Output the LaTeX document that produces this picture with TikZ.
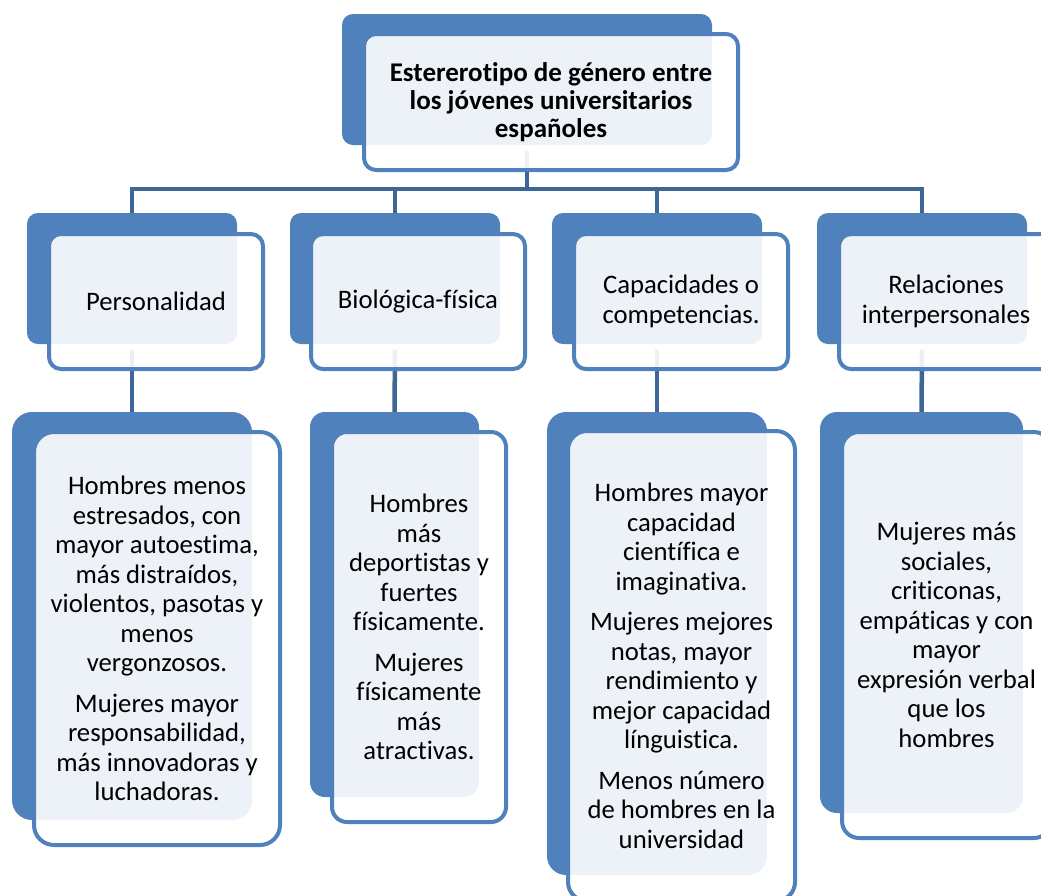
\documentclass[tikz,border=0pt]{standalone}
\usepackage{fontspec}
\setmainfont{Carlito}[Ligatures={NoCommon,NoRare,NoContextual}]
\definecolor{accent}{RGB}{79,129,189}
\definecolor{connc}{RGB}{62,102,150}
\tikzset{
  backbox/.style={fill=accent, draw=none, anchor=north west, inner sep=0pt, outer sep=0pt},
  frontbox/.style={draw=accent, line width=4pt, fill=white, fill opacity=0.9, text opacity=1,
    anchor=north west, inner sep=0pt, outer sep=0pt, align=center, text=black,
    font=\fontsize{26.7}{29.5}\selectfont},
  titlebox/.style={frontbox, font=\fontsize{27}{28}\selectfont\bfseries},
  conn/.style={draw=connc, line width=4.5pt},
}
\begin{document}
\begin{tikzpicture}[x=1pt,y=-1pt]
\useasboundingbox (0,0) rectangle (1041,895);
\clip (0,0) rectangle (1041,895);
\fill[white] (0,0) rectangle (1041,895);

\coordinate (bar) at (527,189);

% ---------- back box geometry (named) ----------
\path
 node[backbox, minimum width=370pt, minimum height=131pt, fill=none] (tb) at (342,14) {}
 node[backbox, minimum width=210pt, minimum height=131pt, fill=none] (ab) at (27,213) {}
 node[backbox, minimum width=210pt, minimum height=131pt, fill=none] (bb) at (290,213) {}
 node[backbox, minimum width=210pt, minimum height=131pt, fill=none] (cb) at (552,213) {}
 node[backbox, minimum width=210pt, minimum height=131pt, fill=none] (db) at (817,213) {}
 node[backbox, minimum width=240pt, minimum height=408pt, fill=none] (eb) at (12,412) {}
 node[backbox, minimum width=169pt, minimum height=385pt, fill=none] (fb) at (310,412) {}
 node[backbox, minimum width=220pt, minimum height=463pt, fill=none] (gb) at (547,412) {}
 node[backbox, minimum width=203pt, minimum height=401pt, fill=none] (hb) at (820,412) {};

% ---------- connectors ----------
\draw[conn] ([yshift=-6pt]tb.south) -- (tb.south |- bar);
\draw[conn] (ab.north) -- (ab.north |- bar) -- (db.north |- bar) -- (db.north);
\draw[conn] (bb.north |- bar) -- (bb.north);
\draw[conn] (cb.north |- bar) -- (cb.north);
\draw[conn] ([yshift=-6pt]ab.south) -- (eb.north);
\draw[conn] ([yshift=-6pt]bb.south) -- (fb.north);
\draw[conn] ([yshift=-6pt]cb.south) -- (gb.north);
\draw[conn] ([yshift=-6pt]db.south) -- (hb.north);

% ---------- filled back boxes ----------
\foreach \n/\r in {tb/11,ab/11,bb/11,cb/11,db/11,eb/20,fb/15,gb/19,hb/17}{
  \fill[accent, rounded corners=\r pt] (\n.north west) rectangle (\n.south east);
}

% ---------- front boxes with text ----------
\node[titlebox, minimum width=374pt, minimum height=136pt, rounded corners=12pt] (tw) at (364,34)
  {Estererotipo de género entre\\ los jóvenes universitarios\\ españoles};

\node[frontbox, minimum width=214pt, minimum height=135pt, rounded corners=12pt] (aw) at (49,234) {Personalidad};
\node[frontbox, minimum width=214pt, minimum height=135pt, rounded corners=12pt] (bw) at (311,234) {Biológica-física};
\node[frontbox, minimum width=214pt, minimum height=135pt, rounded corners=12pt] (cw) at (574,234) {Capacidades o\\ competencias.};
\node[frontbox, minimum width=214pt, minimum height=135pt, rounded corners=12pt] (dw) at (839,234) {Relaciones\\ interpersonales};

\node[frontbox, minimum width=246pt, minimum height=413pt, rounded corners=20pt] (ew) at (34,432)
  {Hombres menos\\ estresados, con\\ mayor autoestima,\\ más distraídos,\\ violentos, pasotas y\\ menos\\ vergonzosos.\\[11pt]
   Mujeres mayor\\ responsabilidad,\\ más innovadoras y\\ luchadoras.};
\node[frontbox, minimum width=174pt, minimum height=390pt, rounded corners=15pt] (fw) at (332,432)
  {Hombres\\ más\\ deportistas y\\ fuertes\\ físicamente.\\[11pt]
   Mujeres\\ físicamente\\ más\\ atractivas.};
\node[frontbox, minimum width=227pt, minimum height=470pt, rounded corners=19pt] (gw) at (568,431)
  {Hombres mayor\\ capacidad\\ científica e\\ imaginativa.\\[11pt]
   Mujeres mejores\\ notas, mayor\\ rendimiento y\\ mejor capacidad\\ línguistica.\\[11pt]
   Menos número\\ de hombres en la\\ universidad};
\node[frontbox, minimum width=209pt, minimum height=406pt, rounded corners=17pt] (hw) at (842,432)
  {Mujeres más\\ sociales,\\ criticonas,\\ empáticas y con\\ mayor\\ expresión verbal\\ que los\\ hombres};
\end{tikzpicture}
\end{document}
